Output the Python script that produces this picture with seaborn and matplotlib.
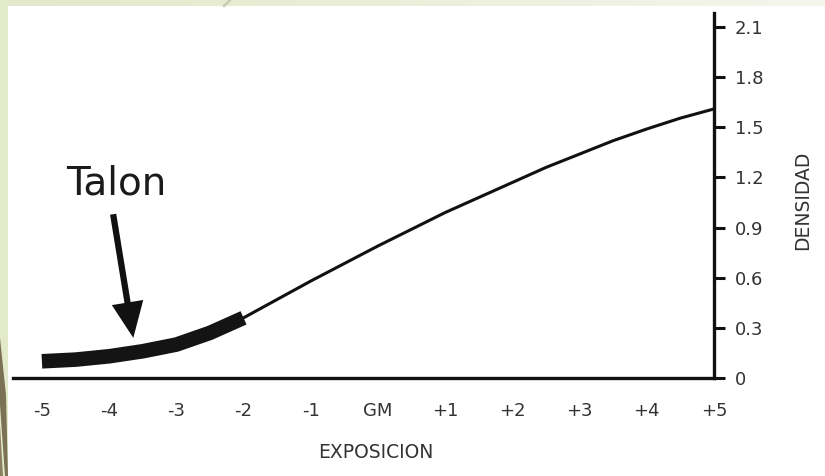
import numpy as np
import pandas as pd
import matplotlib
matplotlib.use("Agg")
import matplotlib.pyplot as plt
from matplotlib.patches import Rectangle, Polygon
from matplotlib.lines import Line2D
import seaborn as sns

# Characteristic curve: density vs. exposure (in stops around the middle grey, GM)
toe_exposure = [-5, -4.5, -4, -3.5, -3, -2.5, -2]
toe_density = [0.10, 0.11, 0.13, 0.16, 0.20, 0.27, 0.36]

body_exposure = [-2, -1.5, -1, -0.5, 0, 0.5, 1, 1.5, 2, 2.5, 3, 3.5, 4, 4.5, 5]
body_density = [0.36, 0.47, 0.58, 0.685, 0.79, 0.89, 0.99, 1.08, 1.17, 1.26,
                1.34, 1.42, 1.49, 1.555, 1.61]

x_ticks = [-5, -4, -3, -2, -1, 0, 1, 2, 3, 4, 5]
x_tick_labels = ["-5", "-4", "-3", "-2", "-1", "GM", "+1", "+2", "+3", "+4", "+5"]
y_ticks = [0, 0.3, 0.6, 0.9, 1.2, 1.5, 1.8, 2.1]
y_tick_labels = ["0", "0.3", "0.6", "0.9", "1.2", "1.5", "1.8", "2.1"]

toe = pd.DataFrame({"exposicion": toe_exposure, "densidad": toe_density})
body = pd.DataFrame({"exposicion": body_exposure, "densidad": body_density})

sns.set_style("white")
plt.rcParams["font.family"] = ["DejaVu Sans"]

W, H = 825, 476
fig = plt.figure(figsize=(W / 100, H / 100), dpi=100)
fig.patch.set_facecolor("#e3e9cb")

# slide background: white panel, light top band and brown accents on the left margin
bg = fig.add_axes([0, 0, 1, 1], zorder=-2)
bg.axis("off")
grad = np.linspace(0, 1, 256)[None, :]
bg.imshow(grad, extent=(0, W, 6, 0), aspect="auto",
          cmap=matplotlib.colors.LinearSegmentedColormap.from_list("band", ["#e2e8c9", "#f4f6ec"]))
bg.add_patch(Rectangle((8, 6), W, H, color="white", lw=0))
bg.add_patch(Rectangle((0, 0), 8, H, color="#e3e9cb", lw=0))
bg.add_patch(Polygon([(0, 338), (6, 395), (8, 476), (5, 476), (0, 405)], color="#7b7155", lw=0))
bg.add_patch(Polygon([(0, 425), (3, 476), (0, 476)], color="#8a805f", lw=0))
bg.add_line(Line2D([224, 230], [6, 0], color="#c9cdb2", lw=2))
bg.set_xlim(0, W)
bg.set_ylim(H, 0)

# main chart axes (axis lines meet at exposure +5, density 0)
left, right, bottom, top = 13, 714, 378, 13
ax = fig.add_axes([left / W, (H - bottom) / H, (right - left) / W, (bottom - top) / H])
ax.set_facecolor("none")

sns.lineplot(data=body, x="exposicion", y="densidad", ax=ax, color="#111111",
             lw=2.2, sort=False)
sns.lineplot(data=toe, x="exposicion", y="densidad", ax=ax, color="#141414",
             lw=10.5, sort=False, solid_capstyle="butt")

ax.set_xlim(-5.43, 5)
ax.set_ylim(0, 2.184)

for s in ("top", "left"):
    ax.spines[s].set_visible(False)
for s in ("bottom", "right"):
    ax.spines[s].set_linewidth(2.4)
    ax.spines[s].set_color("#111111")

ax.yaxis.tick_right()
ax.set_xticks(x_ticks)
ax.set_xticklabels(x_tick_labels)
ax.set_yticks(y_ticks)
ax.set_yticklabels(y_tick_labels)
ax.tick_params(axis="x", direction="out", length=9, width=2.2, color="#111111",
               pad=8, labelsize=13, labelcolor="#333333")
ax.tick_params(axis="y", direction="out", length=8, width=2.2, color="#111111",
               pad=7, labelsize=13, labelcolor="#333333", right=True, left=False)

ax.set_xlabel("EXPOSICION", fontsize=13.5, color="#333333", va="center")
ax.xaxis.set_label_coords((376 - left) / (right - left), -(452 - bottom) / (bottom - top))
ax.yaxis.set_label_position("right")
ax.set_ylabel("DENSIDAD", fontsize=13.5, color="#333333", rotation=90, va="center")
ax.yaxis.set_label_coords((803 - left) / (right - left), (bottom - 200) / (bottom - top))

# annotation for the toe region
ax.text(-3.9, 1.165, "Talon", fontsize=28, color="#1a1a1a", ha="center", va="center")
ax.annotate("", xy=(-3.64, 0.24), xytext=(-3.94, 0.98),
            arrowprops=dict(arrowstyle="-|>,head_length=0.9,head_width=0.4",
                            lw=4.5, color="#111111", shrinkA=0, shrinkB=0,
                            mutation_scale=20, capstyle="butt", joinstyle="miter"))

fig.savefig("out.png", dpi=100, facecolor=fig.get_facecolor())
